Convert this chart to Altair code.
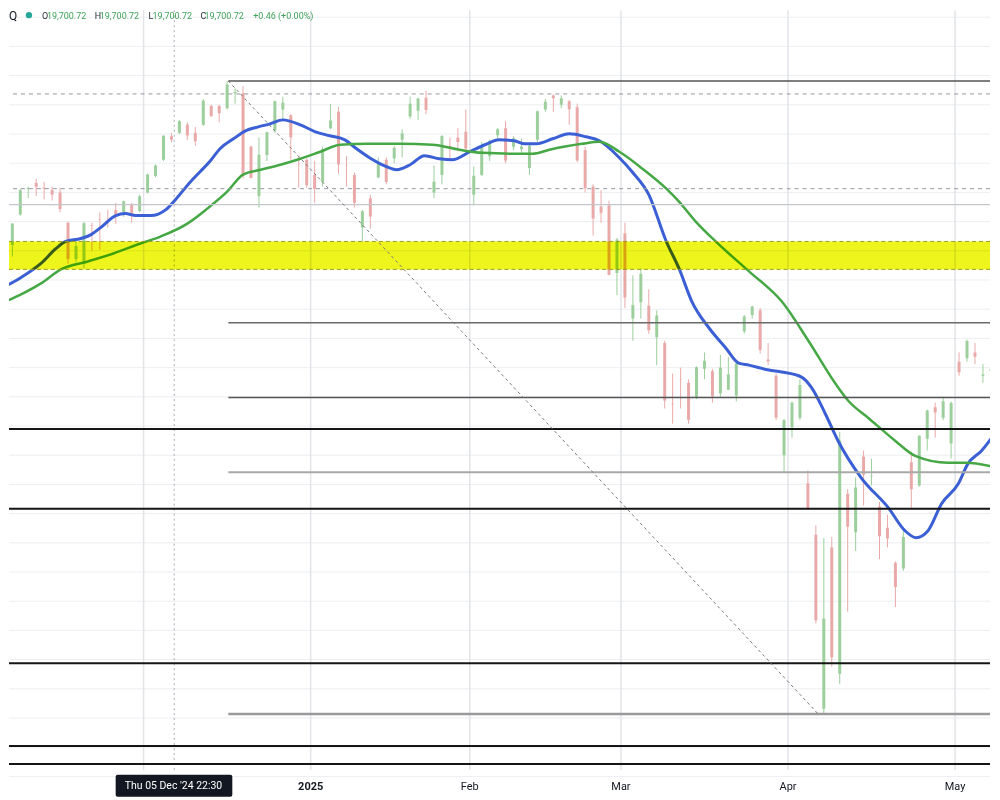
import altair as alt
import pandas as pd

# ---------------- data (Nasdaq Composite, daily approximations) -------------
dates = [
    "2024-11-06","2024-11-07","2024-11-08","2024-11-11","2024-11-12","2024-11-13","2024-11-14","2024-11-15","2024-11-18","2024-11-19","2024-11-20","2024-11-21","2024-11-22","2024-11-25","2024-11-26","2024-11-27","2024-11-29",
    "2024-12-02","2024-12-03","2024-12-04","2024-12-05","2024-12-06","2024-12-09","2024-12-10","2024-12-11","2024-12-12","2024-12-13","2024-12-16","2024-12-17","2024-12-18","2024-12-19","2024-12-20","2024-12-23","2024-12-24","2024-12-26","2024-12-27","2024-12-30","2024-12-31",
    "2025-01-02","2025-01-03","2025-01-06","2025-01-07","2025-01-08","2025-01-10","2025-01-13","2025-01-14","2025-01-15","2025-01-16","2025-01-17","2025-01-21","2025-01-22","2025-01-23","2025-01-24","2025-01-27","2025-01-28","2025-01-29","2025-01-30","2025-01-31",
    "2025-02-03","2025-02-04","2025-02-05","2025-02-06","2025-02-07","2025-02-10","2025-02-11","2025-02-12","2025-02-13","2025-02-14","2025-02-18","2025-02-19","2025-02-20","2025-02-21","2025-02-24","2025-02-25","2025-02-26","2025-02-27","2025-02-28",
    "2025-03-03","2025-03-04","2025-03-05","2025-03-06","2025-03-07","2025-03-10","2025-03-11","2025-03-12","2025-03-13","2025-03-14","2025-03-17","2025-03-18","2025-03-19","2025-03-20","2025-03-21","2025-03-24","2025-03-25","2025-03-26","2025-03-27","2025-03-28","2025-03-31",
    "2025-04-01","2025-04-02","2025-04-03","2025-04-04","2025-04-07","2025-04-08","2025-04-09","2025-04-10","2025-04-11","2025-04-14","2025-04-15","2025-04-16","2025-04-17","2025-04-21","2025-04-22","2025-04-23","2025-04-24","2025-04-25","2025-04-28","2025-04-29","2025-04-30",
    "2025-05-01","2025-05-02","2025-05-05","2025-05-06","2025-05-07","2025-05-08",
]
opens = [
    18800,19060,19280,19330,19290,19270,19250,18990,18680,18640,18970,19020,19010,19100,19080,19150,19090,
    19250,19390,19530,19730,19760,19830,19760,19830,19990,19990,19970,20100,20100,19640,19220,19570,19780,19960,19910,19490,19530,
    19400,19340,19800,19940,19480,19400,18950,19200,19380,19530,19540,19700,19900,19950,20060,19250,19400,19650,19720,19770,
    19230,19400,19560,19740,19800,19640,19620,19460,19700,19960,20080,20000,20030,19980,19610,19300,19130,19140,18560,
    18900,18170,18310,18280,18010,17960,17440,17650,17620,17490,17740,17720,17530,17560,17510,18060,18200,18240,17820,17680,17000,
    17240,17320,16760,16320,14830,16210,15130,16670,16340,16990,16820,16560,16380,16080,16030,16940,16740,17140,17410,17320,17100,
    17800,17830,17880,17680,17720,17850,
]
highs = [
    18983,19280,19301,19366,19340,19300,19290,19000,18840,19000,18990,19080,19100,19160,19180,19160,19230,
    19410,19490,19740,19760,19870,19850,19810,20050,20000,20000,20205,20140,20160,19650,19720,19770,20035,20070,19920,19560,19540,
    19520,19640,20008,19980,19560,19420,19100,19230,19550,19550,19650,19790,20070,20060,20120,19480,19740,19720,19800,19960,
    19470,19680,19700,19800,19860,19730,19710,19660,19950,20050,20090,20080,20040,20010,19640,19320,19270,19180,18860,
    18990,18540,18600,18420,18240,17980,17700,17750,17650,17760,17880,17740,17860,17840,17800,18200,18280,18260,17960,17700,17310,
    17460,17650,16870,16400,16290,16300,17200,16710,16810,17040,16970,16600,16490,16090,16350,17030,17170,17390,17450,17500,17460,
    17880,17990,17960,17780,17860,18090,
]
lows = [
    18700,19050,19200,19220,19190,19180,19080,18640,18650,18600,18750,18760,18950,18980,19040,18990,19080,
    19240,19380,19520,19680,19750,19700,19650,19820,19900,19850,19960,20010,19370,19370,19120,19520,19760,19860,19530,19290,19290,
    19160,19300,19790,19410,19300,19120,18830,18940,19370,19320,19500,19550,19880,19870,19920,19200,19320,19530,19600,19610,
    19140,19390,19520,19690,19500,19610,19590,19400,19680,19940,19940,19970,19830,19510,19250,18880,18990,18540,18370,
    18260,17980,18170,18040,17770,17400,17270,17400,17270,17480,17650,17450,17500,17560,17460,18040,18170,17870,17770,17300,16850,
    17150,17300,16530,15560,14784,15190,15040,15660,16180,16570,16740,16110,16210,15700,16010,16550,16730,17040,17150,17300,16970,
    17680,17800,17780,17620,17610,17830,
]
closes = [
    18983,19269,19287,19298,19281,19230,19107,18680,18792,18987,18966,19016,19004,19054,19175,19060,19218,
    19404,19481,19735,19700,19860,19737,19687,20034,19902,19927,20173,20109,19393,19373,19573,19765,20031,20020,19722,19487,19311,
    19280,19622,19865,19490,19479,19162,19088,19044,19511,19339,19630,19757,20010,20054,19955,19342,19733,19632,19681,19627,
    19392,19654,19692,19791,19523,19714,19643,19649,19945,20027,20056,20056,19962,19524,19286,19026,19075,18544,18847,
    18350,18285,18553,18069,18196,17468,17436,17648,17303,17754,17808,17504,17750,17692,17784,18188,18272,17900,17804,17323,17299,
    17450,17601,16550,15588,15603,15268,17125,16387,16724,16832,16824,16307,16286,15871,16300,16708,17166,17383,17366,17461,17446,
    17710,17978,17844,17690,17738,17929,
]

# moving averages (bar index, price)
blue_idx = [-17.9,-15.4,-12.9,-11.0,-9.8,-7.9,-6.6,-5.4,-3.5,-2.3,-1.0,0.9,2.8,4.0,5.9,7.1,8.4,9.6,11.3,12.8,14.4,15.9,17.5,19.7,21.6,23.4,25.3,26.6,28.4,30.3,31.8,33.5,35.3,37.2,38.8,41.0,42.9,44.7,46.6,47.9,49.4,51.4,53.5,55.6,57.3,59.8,61.4,63.5,65.7,67.3,68.9,71.1,73.2,74.8,76.1,78.6,80.2,82.7,84.0,85.7,87.3,90.2,93.6,95.7,97.1,98.6,100.3,102.4,103.6,105.3,107.4]
blue_val = [18428,18522,18642,18770,18830,18855,18889,18949,19052,19069,19052,19052,19103,19188,19342,19427,19521,19624,19709,19777,19811,19837,19871,19828,19769,19735,19700,19632,19547,19478,19444,19487,19564,19538,19530,19598,19658,19700,19692,19666,19666,19709,19752,19726,19692,19547,19427,19231,18830,18599,18318,18087,17916,17788,17771,17729,17712,17669,17575,17353,17122,16807,16551,16354,16294,16354,16585,16755,16926,17037,17225]
green_idx = [-17.9,-15.4,-12.9,-10.4,-7.0,-3.8,-0.4,2.1,5.5,8.0,10.5,12.5,14.7,17.2,19.7,22.2,24.7,28.1,32.2,36.3,39.7,42.6,46.9,48.9,51.0,55.1,57.3,59.8,62.7,65.7,67.3,69.4,71.9,76.1,80.2,83.6,87.0,88.6,91.1,94.5,97.0,101.1,103.3,107.4]
green_val = [18300,18377,18471,18591,18659,18727,18813,18872,18983,19111,19256,19402,19444,19487,19538,19598,19658,19666,19666,19658,19615,19589,19581,19581,19615,19666,19683,19598,19453,19282,19171,19000,18830,18574,18318,17976,17609,17464,17319,17122,16994,16935,16935,16892]

# horizontal levels
fib_levels = [20204, 18134, 17494, 16855, 14784]
fib_colors = ["#555555", "#6a6a6a", "#555555", "#a8a8a8", "#9a9a9a"]
fib_widths = [1.5, 1.3, 1.3, 2.0, 2.5]
black_levels = [17225, 16542, 15219, 14510, 14357]
dashed_levels = [20093, 19282]
gray_levels = [19146]
band_lo, band_hi = 18591, 18830
month_starts = ["2024-12-02", "2025-01-02", "2025-02-03", "2025-03-03", "2025-04-01", "2025-05-01"]
month_labels = ["", "2025", "Feb", "Mar", "Apr", "May"]
fib_start_idx = 10.65
fib_end_idx = 84.8
crosshair_idx = 3.85

# ---------------- layout ----------------
W, H = 984, 762
X_DOMAIN = [-16.92, 106.39]
Y_DOMAIN = [14306, 20810]
xs = alt.Scale(domain=X_DOMAIN, nice=False, zero=False)
ys = alt.Scale(domain=Y_DOMAIN, nice=False, zero=False)

origin = dates.index("2024-12-02")
candles = pd.DataFrame({
    "date": dates, "open": opens, "high": highs, "low": lows, "close": closes,
})
candles["idx"] = [i - origin + 0.5 for i in range(len(dates))]
candles["dir"] = ["up" if c >= o else "down" for o, c in zip(opens, closes)]

col = alt.Color("dir:N", scale=alt.Scale(domain=["up", "down"], range=["#9ccf9c", "#eaa9a9"]), legend=None)


def X(f):
    return alt.X(f, type="quantitative", scale=xs, axis=None)


def Y(f):
    return alt.Y(f, type="quantitative", scale=ys, axis=None)


grid_df = pd.DataFrame({"p": list(range(14250, 20751, 250))})
hgrid = alt.Chart(grid_df).mark_rule(color="#eceef1", strokeWidth=1).encode(y=Y("p"))

months = pd.DataFrame({
    "m": [dates.index(d) - origin for d in month_starts],
    "label": month_labels,
})
vgrid = alt.Chart(months).mark_rule(color="#e2e4e8", strokeWidth=1.5).encode(x=X("m"))

wicks = alt.Chart(candles).mark_rule(strokeWidth=1, clip=True).encode(
    x=X("idx"), y=Y("low"), y2="high", color=col)
bodies = alt.Chart(candles).mark_rule(strokeWidth=3, clip=True).encode(
    x=X("idx"), y=Y("open"), y2="close", color=col)

blue = alt.Chart(pd.DataFrame({"i": blue_idx, "v": blue_val})).mark_line(
    color="#3b5fd4", strokeWidth=3, interpolate="monotone", clip=True).encode(x=X("i"), y=Y("v"))
green = alt.Chart(pd.DataFrame({"i": green_idx, "v": green_val})).mark_line(
    color="#45a845", strokeWidth=2.5, interpolate="monotone", clip=True).encode(x=X("i"), y=Y("v"))

band_df = pd.DataFrame({"x1": [X_DOMAIN[0]], "x2": [X_DOMAIN[1]], "lo": [band_lo], "hi": [band_hi]})
band = alt.Chart(band_df).mark_rect(color="#eef51c", blend="multiply").encode(
    x=X("x1"), x2="x2", y=Y("lo"), y2="hi")
band_edges = alt.Chart(pd.DataFrame({"p": [band_lo, band_hi]})).mark_rule(
    color="#9c9c22", strokeDash=[4, 3], strokeWidth=1).encode(y=Y("p"))

dashed = alt.Chart(pd.DataFrame({"p": dashed_levels})).mark_rule(
    color="#9598a1", strokeDash=[4, 4], strokeWidth=1).encode(y=Y("p"))
grayl = alt.Chart(pd.DataFrame({"p": gray_levels})).mark_rule(
    color="#c4c6cc", strokeWidth=1.2).encode(y=Y("p"))

fib_df = pd.DataFrame({"p": fib_levels, "c": fib_colors, "w": fib_widths,
                       "x1": fib_start_idx, "x2": X_DOMAIN[1]})
fibs = alt.Chart(fib_df).mark_rule().encode(
    x=X("x1"), x2="x2", y=Y("p"),
    color=alt.Color("c:N", scale=None),
    strokeWidth=alt.StrokeWidth("w:Q", scale=None))

blacks = alt.Chart(pd.DataFrame({"p": black_levels})).mark_rule(
    color="#151515", strokeWidth=2).encode(y=Y("p"))

diag = alt.Chart(pd.DataFrame({"i": [fib_start_idx, fib_end_idx], "v": [fib_levels[0], fib_levels[-1]]})).mark_line(
    color="#7a7a7a", strokeDash=[3, 3], strokeWidth=1).encode(x=X("i"), y=Y("v"))

cross = alt.Chart(pd.DataFrame({"i": [crosshair_idx]})).mark_rule(
    color="#a9acb4", strokeDash=[2, 3], strokeWidth=1).encode(x=X("i"))

lab_df = months[months.label != ""]
xlabels_bold = alt.Chart(lab_df[lab_df.label == "2025"]).mark_text(
    fontSize=11, font="Roboto", color="#131722", baseline="middle", fontWeight="bold").encode(
    x=X("m"), y=alt.value(H + 17), text="label:N")
xlabels = alt.Chart(lab_df[lab_df.label != "2025"]).mark_text(
    fontSize=11, font="Roboto", color="#131722", baseline="middle").encode(
    x=X("m"), y=alt.value(H + 17), text="label:N")

# crosshair time label
cl_box = alt.Chart(pd.DataFrame({"a": [0]})).mark_rect(color="#131722", cornerRadius=2).encode(
    x=alt.value(107), x2=alt.value(224), y=alt.value(767), y2=alt.value(789))
cl_text = alt.Chart(pd.DataFrame({"t": ["Thu 05 Dec '24   22:30"]})).mark_text(
    color="white", fontSize=10.5, font="Roboto", baseline="middle").encode(
    x=alt.value(165), y=alt.value(778), text="t:N")

# header legend (OHLC of crosshair bar)
hdr_letters = pd.DataFrame({"t": ["O", "H", "L", "C"], "x": [33, 86, 140, 192]})
hdr_values = pd.DataFrame({"t": ["19,700.72", "19,700.72", "19,700.72", "19,700.72", "+0.46 (+0.00%)"],
                           "x": [38, 91, 144, 196, 245]})
h_let = alt.Chart(hdr_letters).mark_text(fontSize=9, font="Roboto", color="#2a2e39", align="left",
                                         baseline="middle").encode(
    x=alt.X("x:Q", scale=None), y=alt.value(6), text="t:N")
h_val = alt.Chart(hdr_values).mark_text(fontSize=9, font="Roboto", color="#3fa25a", align="left",
                                        baseline="middle").encode(
    x=alt.X("x:Q", scale=None), y=alt.value(6), text="t:N")
h_dot = alt.Chart(pd.DataFrame({"a": [0]})).mark_point(filled=True, size=40, color="#26a69a", opacity=1).encode(
    x=alt.value(20), y=alt.value(5))
h_sym = alt.Chart(pd.DataFrame({"t": ["Q"]})).mark_text(fontSize=12, font="Roboto", color="#131722",
                                                     align="left", baseline="middle").encode(
    x=alt.value(0), y=alt.value(6), text="t:N")

chart = alt.layer(
    hgrid, vgrid, cross, wicks, bodies, blue, green, band, band_edges,
    dashed, grayl, fibs, blacks, diag, xlabels_bold, xlabels, cl_box, cl_text,
    h_let, h_val, h_dot, h_sym,
).properties(width=W, height=H, padding=0, background="white").configure_view(stroke=None)

chart.save("out.html", embed_options={"renderer": "svg", "actions": False})
